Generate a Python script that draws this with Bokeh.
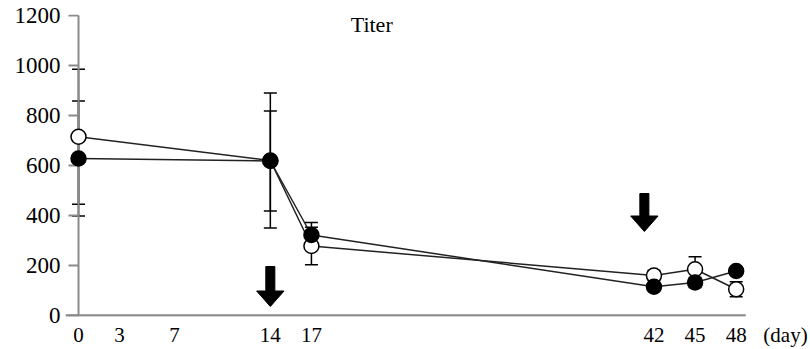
from bokeh.plotting import figure
from bokeh.models import FixedTicker, Whisker, TeeHead, ColumnDataSource, Label, Range1d
from bokeh.embed import file_html
from bokeh.resources import INLINE

# ---- data ----
days = [0, 14, 17, 42, 45, 48]
open_vals = [715, 620, 278, 160, 185, 105]
open_err = [270, 270, 75, 20, 50, 30]
filled_vals = [628, 618, 322, 115, 132, 178]
filled_err = [230, 200, 50, 15, 20, 15]
x_ticks = [0, 3, 7, 14, 17, 42, 45, 48]
y_ticks = [0, 200, 400, 600, 800, 1000, 1200]
arrow_days = [14, 41.3]
arrow_top = [196, 488]
arrow_tip = [36, 336]
title_text = "Titer"
unit_text = "(day)"
unit_pos = 51.6

FONT = "Liberation Serif"
AX = "#8a8a8a"

X0, X1 = -0.95, 53.06
XAXIS_END = 48.7

p = figure(width=810, height=349, output_backend="svg", toolbar_location=None,
           x_range=Range1d(X0, X1), y_range=Range1d(-4, 1204),
           min_border_left=65, min_border_right=5, min_border_top=14, min_border_bottom=32)
p.outline_line_color = None
p.grid.visible = False
p.background_fill_color = "white"
p.border_fill_color = "white"

# y axis: labels only from Bokeh, line and ticks drawn at x = 0
p.yaxis.ticker = FixedTicker(ticks=y_ticks)
p.yaxis.axis_line_color = None
p.yaxis.major_tick_line_color = None
p.yaxis.major_tick_out = 0
p.yaxis.major_tick_in = 0
p.yaxis.minor_tick_line_color = None
p.yaxis.major_label_standoff = 5
p.yaxis.major_label_text_font = FONT
p.yaxis.major_label_text_font_size = "23px"
p.yaxis.major_label_text_color = "black"

# x axis: labels only, line drawn separately
p.xaxis.ticker = FixedTicker(ticks=x_ticks + [unit_pos])
p.xaxis.major_label_overrides = {unit_pos: unit_text}
p.xaxis.axis_line_color = None
p.xaxis.major_tick_line_color = None
p.xaxis.major_tick_out = 0
p.xaxis.major_tick_in = 0
p.xaxis.minor_tick_line_color = None
p.xaxis.major_label_standoff = 6
p.xaxis.major_label_text_font = FONT
p.xaxis.major_label_text_font_size = "21px"
p.xaxis.major_label_text_color = "black"

# axis lines and y ticks
tick_len = 10 / 13.7
p.segment(x0=[X0], y0=[0], x1=[XAXIS_END], y1=[0], line_color=AX, line_width=2.5)
p.segment(x0=[0], y0=[0], x1=[0], y1=[y_ticks[-1]], line_color=AX, line_width=2)
p.segment(x0=[-tick_len] * len(y_ticks), y0=y_ticks, x1=[0] * len(y_ticks), y1=y_ticks,
          line_color=AX, line_width=2)

# error bars
src_o = ColumnDataSource(dict(x=days, y=open_vals,
                              lo=[v - e for v, e in zip(open_vals, open_err)],
                              hi=[v + e for v, e in zip(open_vals, open_err)]))
src_f = ColumnDataSource(dict(x=days, y=filled_vals,
                              lo=[v - e for v, e in zip(filled_vals, filled_err)],
                              hi=[v + e for v, e in zip(filled_vals, filled_err)]))
for src in (src_o, src_f):
    w = Whisker(source=src, base="x", lower="lo", upper="hi", line_color="black", line_width=1.5,
                upper_head=TeeHead(size=13, line_color="black", line_width=1.5),
                lower_head=TeeHead(size=13, line_color="black", line_width=1.5))
    p.add_layout(w)

# lines
p.line("x", "y", source=src_o, line_color="#222222", line_width=1.5)
p.line("x", "y", source=src_f, line_color="#222222", line_width=1.5)

# markers
p.scatter("x", "y", source=src_o, size=15, marker="circle", fill_color="white",
          line_color="black", line_width=1.5)
p.scatter("x", "y", source=src_f, size=15, marker="circle", fill_color="black",
          line_color="black", line_width=1.5)

# arrows (shaft + head polygons)
shaft_hw = 0.33
head_hw = 1.0
head_len = 62
xs, ys = [], []
for d, t, b in zip(arrow_days, arrow_top, arrow_tip):
    hs = b + head_len
    xs.append([d - shaft_hw, d + shaft_hw, d + shaft_hw, d + head_hw, d, d - head_hw, d - shaft_hw])
    ys.append([t, t, hs, hs, b, hs, hs])
p.patches(xs, ys, fill_color="black", line_color="black", line_width=1)

# title text
p.add_layout(Label(x=21.4, y=1165, text=title_text, text_font=FONT, text_font_size="22px",
                   text_align="center", text_baseline="middle", text_color="black"))

open("out.html", "w").write(file_html(p, INLINE))
